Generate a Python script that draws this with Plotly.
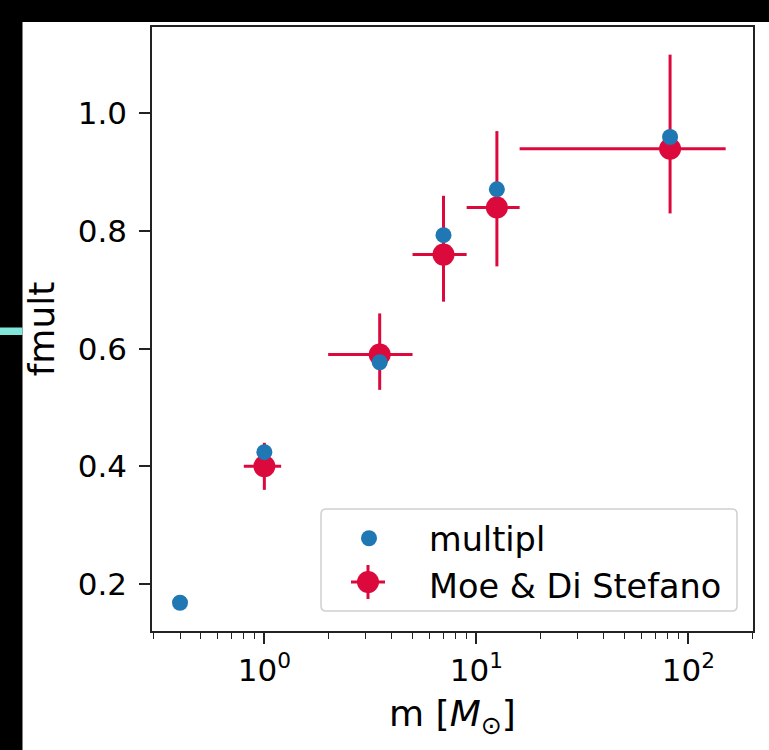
import plotly.graph_objects as go

# ---- data ----
multipl_m = [0.4, 1.0, 3.5, 7.0, 12.5, 82.0]
multipl_f = [0.168, 0.424, 0.577, 0.793, 0.871, 0.960]

moe_m = [1.0, 3.5, 7.0, 12.5, 82.0]
moe_f = [0.40, 0.59, 0.76, 0.84, 0.94]
moe_m_low = [0.8, 2.0, 5.0, 9.0, 16.0]
moe_m_high = [1.2, 5.0, 9.0, 16.0, 150.0]
moe_f_low = [0.36, 0.53, 0.68, 0.74, 0.83]
moe_f_high = [0.44, 0.66, 0.86, 0.97, 1.10]

x_tick_vals = [1, 10, 100]
x_tick_text = ["10<sup>0</sup>", "10<sup>1</sup>", "10<sup>2</sup>"]
x_minor_vals = [0.3, 0.4, 0.5, 0.6, 0.7, 0.8, 0.9,
                2, 3, 4, 5, 6, 7, 8, 9,
                20, 30, 40, 50, 60, 70, 80, 90, 200]
y_tick_vals = [0.2, 0.4, 0.6, 0.8, 1.0]
y_tick_text = ["0.2", "0.4", "0.6", "0.8", "1.0"]

BLUE = "#1f77b4"
RED = "#dc0a3c"
FONT = "DejaVu Sans"

W, H = 769, 750
L, R, T, B = 152, 16, 27, 119
PW, PH = W - L - R, H - T - B


def px(x):
    return (x - L) / PW


def py(y):
    return (H - B - y) / PH


fig = go.Figure()

fig.add_trace(go.Scatter(
    x=moe_m, y=moe_f, mode="markers", name="Moe & Di Stefano",
    legendrank=2,
    marker=dict(color=RED, size=22),
    error_x=dict(type="data", symmetric=False,
                 array=[h - m for h, m in zip(moe_m_high, moe_m)],
                 arrayminus=[m - l for l, m in zip(moe_m_low, moe_m)],
                 color=RED, thickness=3, width=0),
    error_y=dict(type="data", symmetric=False,
                 array=[h - f for h, f in zip(moe_f_high, moe_f)],
                 arrayminus=[f - l for l, f in zip(moe_f_low, moe_f)],
                 color=RED, thickness=3, width=0),
))

fig.add_trace(go.Scatter(
    x=multipl_m, y=multipl_f, mode="markers", name="multipl",
    legendrank=1,
    marker=dict(color=BLUE, size=16),
))

shapes = []
# black frame strips from the screenshot
shapes.append(dict(type="rect", xref="paper", yref="paper", layer="above",
                   x0=px(0), x1=px(W), y0=py(22), y1=py(0),
                   fillcolor="black", line=dict(width=0)))
shapes.append(dict(type="rect", xref="paper", yref="paper", layer="above",
                   x0=px(0), x1=px(22.5), y0=py(H), y1=py(0),
                   fillcolor="black", line=dict(width=0)))
shapes.append(dict(type="rect", xref="paper", yref="paper", layer="above",
                   x0=px(0), x1=px(22.5), y0=py(335), y1=py(327.5),
                   fillcolor="#7fe6d9", line=dict(width=0)))

# legend box with rounded corners
lx0, lx1, ly0, ly1, r = 321, 737, 509, 611, 5
rx, ry = r / PW, r / PH
X0, X1, Y0, Y1 = px(lx0), px(lx1), py(ly1), py(ly0)
path = (f"M {X0+rx},{Y0} L {X1-rx},{Y0} Q {X1},{Y0} {X1},{Y0+ry} "
        f"L {X1},{Y1-ry} Q {X1},{Y1} {X1-rx},{Y1} "
        f"L {X0+rx},{Y1} Q {X0},{Y1} {X0},{Y1-ry} "
        f"L {X0},{Y0+ry} Q {X0},{Y0} {X0+rx},{Y0} Z")
shapes.append(dict(type="path", xref="paper", yref="paper", layer="below",
                   path=path, fillcolor="white",
                   line=dict(color="#d0d0d0", width=1.5)))

# legend glyph for the error-bar series (marker with cross)
gx, gy = 368, 582
shapes.append(dict(type="line", xref="paper", yref="paper", layer="above",
                   x0=px(gx - 17), x1=px(gx + 17), y0=py(gy), y1=py(gy),
                   line=dict(color=RED, width=3)))
shapes.append(dict(type="line", xref="paper", yref="paper", layer="above",
                   x0=px(gx), x1=px(gx), y0=py(gy + 17), y1=py(gy - 17),
                   line=dict(color=RED, width=3)))
shapes.append(dict(type="circle", xref="paper", yref="paper", layer="above",
                   x0=px(gx - 11), x1=px(gx + 11), y0=py(gy + 11),
                   y1=py(gy - 11), fillcolor=RED, line=dict(width=0)))

axis_common = dict(
    showgrid=False, zeroline=False, showline=True, linecolor="#222",
    linewidth=1.5, mirror=True, ticks="outside", ticklen=11, tickwidth=1.5,
    tickcolor="#222", tickfont=dict(family=FONT, size=31, color="black"),
)

fig.update_layout(
    width=W, height=H,
    margin=dict(l=L, r=R, t=T, b=B, autoexpand=False),
    paper_bgcolor="white", plot_bgcolor="white",
    font=dict(family=FONT, color="black"),
    shapes=shapes,
    showlegend=True,
    legend=dict(x=px(309), y=py(510), xanchor="left", yanchor="top",
                bgcolor="rgba(0,0,0,0)", borderwidth=0,
                font=dict(family=FONT, size=33.5, color="black"),
                itemwidth=110, traceorder="normal"),
    xaxis=dict(type="log", range=[-0.530, 2.305],
               tickmode="array", tickvals=x_tick_vals, ticktext=x_tick_text,
               minor=dict(tickmode="array", tickvals=x_minor_vals,
                          ticks="outside", ticklen=6, tickwidth=1.2,
                          tickcolor="#222", showgrid=False),
               title=dict(text="m [<i>M</i><sub>⊙</sub>]",
                          font=dict(family=FONT, size=36, color="black"),
                          standoff=14),
               **axis_common),
    yaxis=dict(range=[0.120, 1.147], tickmode="array",
               tickvals=y_tick_vals, ticktext=y_tick_text,
               ticklabelstandoff=6,
               title=dict(text="fmult",
                          font=dict(family=FONT, size=36, color="black"),
                          standoff=12),
               **axis_common),
)

fig.write_html("out.html")
